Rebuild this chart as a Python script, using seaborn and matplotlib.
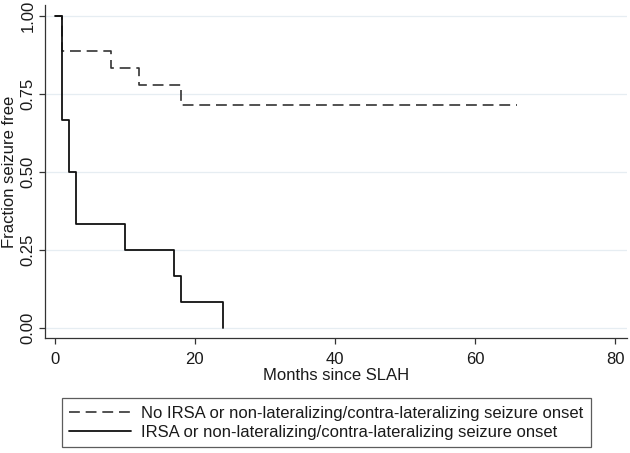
import numpy as np
import pandas as pd
import matplotlib
matplotlib.use("Agg")
import matplotlib.pyplot as plt
import seaborn as sns

# Kaplan-Meier step values
months_no_irsa = [0, 1, 8, 12, 18, 66]
surv_no_irsa = [1.0, 0.889, 0.833, 0.778, 0.714, 0.714]
months_irsa = [0, 1, 2, 3, 10, 17, 18, 24]
surv_irsa = [1.0, 0.667, 0.5, 0.333, 0.25, 0.167, 0.083, 0.0]

label_no = "No IRSA or non-lateralizing/contra-lateralizing seizure onset"
label_yes = "IRSA or non-lateralizing/contra-lateralizing seizure onset"

x_ticks = [0, 20, 40, 60, 80]
y_ticks = [0.0, 0.25, 0.5, 0.75, 1.0]
y_ticklabels = ["0.00", "0.25", "0.50", "0.75", "1.00"]

sns.set_style("white")
plt.rcParams["font.family"] = ["Liberation Sans", "DejaVu Sans"]
text_col = "#1a1a1a"
fs = 12

df_no = pd.DataFrame({"months": months_no_irsa, "surv": surv_no_irsa})
df_yes = pd.DataFrame({"months": months_irsa, "surv": surv_irsa})

fig = plt.figure(figsize=(6.3, 4.53), dpi=100)
ax = fig.add_axes([0.0714, 0.254, 0.924, 0.735])

# light horizontal gridlines at y ticks
for yv in y_ticks:
    ax.axhline(yv, color="#e6edf2", lw=0.9, zorder=0)

sns.lineplot(data=df_no, x="months", y="surv", ax=ax, estimator=None, sort=False,
             drawstyle="steps-post", color="#333333", lw=1.2,
             dashes=False, label=label_no, linestyle=(0, (6.5, 3.5)))
sns.lineplot(data=df_yes, x="months", y="surv", ax=ax, estimator=None, sort=False,
             drawstyle="steps-post", color="#111111", lw=1.3, label=label_yes)

ax.set_xlim(-1.4, 81.7)
ax.set_ylim(-0.032, 1.035)
ax.set_xticks(x_ticks)
ax.set_yticks(y_ticks)
ax.set_yticklabels(y_ticklabels, rotation=90, va="center")
ax.tick_params(axis="both", which="both", bottom=True, left=True,
               direction="out", length=4, width=0.9,
               color="#333333", labelsize=fs, labelcolor=text_col)
ax.tick_params(axis="x", pad=6)
ax.tick_params(axis="y", pad=3)

for side in ["top", "right"]:
    ax.spines[side].set_visible(False)
for side in ["left", "bottom"]:
    ax.spines[side].set_color("#333333")
    ax.spines[side].set_linewidth(0.9)

ax.set_xlabel("Months since SLAH", fontsize=fs, color=text_col, labelpad=1)
ax.set_ylabel("Fraction seizure free", fontsize=fs, color=text_col, labelpad=2)

handles, labels = ax.get_legend_handles_labels()
ax.get_legend().remove()
leg = fig.legend(handles, labels, loc="center", bbox_to_anchor=(0.518, 0.067),
                 ncol=1, fontsize=fs, frameon=True, fancybox=False,
                 handlelength=3.7, handletextpad=0.6, borderpad=0.45,
                 labelspacing=0.25, edgecolor="#333333")
leg.get_frame().set_linewidth(0.9)
for t in leg.get_texts():
    t.set_color(text_col)

fig.savefig("out.png", dpi=100)
